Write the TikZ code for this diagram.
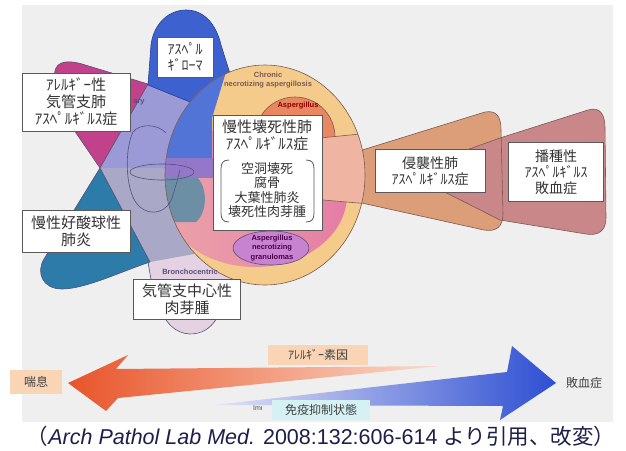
\documentclass[tikz,border=0pt]{standalone}
\usepackage{fontspec}
\setmainfont{Liberation Sans}
\newfontfamily\jp{Noto Sans CJK JP}
\usetikzlibrary{positioning}

\definecolor{bgGray}{HTML}{EFEFF0}
\definecolor{magC}{HTML}{C1428A}
\definecolor{tealC}{HTML}{2C7BA8}
\definecolor{lavTop}{HTML}{9C9AD6}
\definecolor{lavLow}{HTML}{A9A8C6}
\definecolor{blueTop}{HTML}{3E61D0}
\definecolor{blueIn}{HTML}{5274D6}
\definecolor{blueDark}{HTML}{2A3F90}
\definecolor{purpBand}{HTML}{9477C9}
\definecolor{tealGray}{HTML}{6D8FA6}
\definecolor{salPink}{HTML}{EBA3A9}
\definecolor{hotPink}{HTML}{E57DA5}
\definecolor{tanC}{HTML}{F4CB8A}
\definecolor{orangeC}{HTML}{E98760}
\definecolor{salmonC}{HTML}{F0B4A2}
\definecolor{invC}{HTML}{DC9E78}
\definecolor{dissC}{HTML}{C98789}
\definecolor{granC}{HTML}{C783D0}
\definecolor{bronPink}{HTML}{E4D2E2}
\definecolor{lineDark}{HTML}{55507A}
\definecolor{brownDark}{HTML}{7A5A52}
\definecolor{orgDark}{HTML}{E8542A}
\definecolor{orgPale}{HTML}{FBDCCB}
\definecolor{bluePale}{HTML}{E4E4F6}
\definecolor{blueHead}{HTML}{2D4FD2}
\definecolor{peach}{HTML}{F9D5B5}
\definecolor{cyanPale}{HTML}{D5F1F4}
\definecolor{navy}{HTML}{1E1E4A}

\tikzset{
  namebox/.style={draw=black!65, fill=white, line width=0.8pt, align=center, text=black!80, inner sep=1pt},
  jpbig/.style={font=\jp\fontsize{15}{17}\selectfont, text=black!80},
  jpmid/.style={font=\jp\fontsize{14}{16}\selectfont},
  jpsmall/.style={font=\jp\fontsize{13}{14.5}\selectfont, text=black!80},
  tinylbl/.style={font=\bfseries\fontsize{7.5}{9.5}\selectfont, align=center, inner sep=0pt},
  rim/.style={draw=#1, line width=0.6pt},
  pilltag/.style={font=\jp\fontsize{12}{14}\selectfont, text=black!75, inner sep=3pt},
}

\begin{document}
\begin{tikzpicture}[x=1pt,y=-1pt]
\useasboundingbox (0,0) rectangle (626,450);
\fill[white] (0,0) rectangle (626,450);
\fill[bgGray] (22,5) rectangle (613,422);

% bronchocentric tongue
\fill[bronPink] (147,255) .. controls (152,290) and (160,333) .. (190,334) .. controls (214,334) and (222,312) .. (232,282) -- (205,248) -- cycle;
\draw[rim=lineDark] (147,255) .. controls (152,290) and (160,333) .. (190,334) .. controls (214,334) and (222,312) .. (232,282);

% crossing zone of the two triangles
\fill[lavTop] (100,168) -- (148,84) -- (205,98) -- (205,170) -- cycle;
\fill[lavLow] (100,168) -- (205,168) -- (205,252) -- (150,262) -- cycle;
\filldraw[fill=magC, rim=lineDark] (100,168) -- (74,130) .. controls (62,105) and (50,80) .. (56,68) .. controls (60,60) and (72,61) .. (82,64) -- (148,84) -- cycle;
\filldraw[fill=tealC, rim=lineDark] (100,168) -- (150,262) .. controls (120,272) and (85,289) .. (62,289) .. controls (42,289) and (36,272) .. (44,259) -- cycle;

% aspergilloma
\filldraw[fill=blueTop, rim=blueDark] (148,85) -- (151,45) .. controls (154,22) and (170,10) .. (186,10) .. controls (204,10) and (216,24) .. (221,45) -- (232,80) -- (195,104) -- cycle;

% invasive and disseminated
\fill[invC] (330,160) -- (485,112) .. controls (497,110) and (501,117) .. (501,130) -- (503,214) .. controls (503,227) and (496,232) .. (484,230) -- (330,196) -- cycle;
\filldraw[fill=dissC, rim=brownDark] (405,172) -- (500,138) -- (588,110) .. controls (601,106) and (605,116) .. (605,128) -- (606,218) .. controls (606,231) and (598,236) .. (586,234) -- (500,220) -- cycle;
\draw[rim=brownDark] (330,160) -- (485,112) .. controls (497,110) and (501,117) .. (501,130) -- (503,214) .. controls (503,227) and (496,232) .. (484,230) -- (330,196);

% chronic necrotizing circle
\fill[tanC] (265,175) ellipse [x radius=100, y radius=110];
\begin{scope}
  \clip (265,175) ellipse [x radius=100, y radius=110];
  \shade[left color=salPink, right color=hotPink] (255,195) ellipse [x radius=92, y radius=72];
  \fill[blueIn] (150,60) -- (229,62) -- (212,118) -- (212,158) -- (150,158) -- cycle;
  \fill[purpBand] (150,158) rectangle (214,178);
  \fill[tealGray] (150,178) -- (198,178) .. controls (207,188) and (208,212) .. (196,222) -- (150,222) -- cycle;
  \filldraw[fill=orangeC, rim=brownDark] (295,137) ellipse [x radius=40, y radius=40];
  \fill[salmonC] (300,140) -- (370,133) -- (370,204) -- (300,198) -- cycle;
  \draw[rim=brownDark] (300,140) -- (370,133);
  \draw[rim=brownDark] (300,198) -- (370,204);
\end{scope}
\filldraw[fill=granC, rim=lineDark] (271,248) ellipse [x radius=38, y radius=17];
\draw[rim=brownDark] (265,175) ellipse [x radius=100, y radius=110];

% bronchus outline
\draw[rim=lineDark] (162,172) ellipse [x radius=32, y radius=8];
\draw[rim=lineDark] (166,133) .. controls (158,124) and (140,123) .. (133,132) .. controls (124,150) and (125,195) .. (140,207) .. controls (150,216) and (168,214) .. (173,195) .. controls (176,185) and (178,178) .. (180,170);

% small English labels
\node[tinylbl, text=brownDark] (cnaLbl) at (268,80) {Chronic\\necrotizing aspergillosis};
\node[tinylbl, text=red!55!black] (aspLbl) at (298,106) {Aspergillus};
\node[tinylbl, text=violet!60!black] (granLbl) at (272,248) {Aspergillus\\necrotizing\\granulomas};
\node[tinylbl, text=lineDark] (bronLbl) at (190,272) {Bronchocentric};
\node[tinylbl, text=lineDark] (aryLbl) at (139,102) {ary};

% name boxes
\node[namebox, jpmid, minimum width=56, minimum height=40] (aspg) at (185,57) {ｱｽﾍﾟﾙ\\ｷﾞﾛｰﾏ};
\node[namebox, jpbig, minimum width=108, minimum height=58] (abpa) at (76,102) {ｱﾚﾙｷﾞｰ性\\気管支肺\\ｱｽﾍﾟﾙｷﾞﾙｽ症};
\node[namebox, jpbig, minimum width=108, minimum height=42] (cep) at (76,231) {慢性好酸球性\\肺炎};
\node[namebox, jpbig, minimum width=107, minimum height=40] (bgran) at (187,299) {気管支中心性\\肉芽腫};
\node[namebox, jpmid, minimum width=110, minimum height=43] (ipa) at (430,171) {侵襲性肺\\ｱｽﾍﾟﾙｷﾞﾙｽ症};
\node[namebox, jpmid, minimum width=95, minimum height=59] (dpa) at (556,172) {播種性\\ｱｽﾍﾟﾙｷﾞﾙｽ\\敗血症};
\node[namebox, minimum width=109, minimum height=115] (cnpa) at (267.5,172.5) {};
\node[jpbig, align=center] (cnpaTitle) at (267,135) {慢性壊死性肺\\ｱｽﾍﾟﾙｷﾞﾙｽ症};
\node[jpsmall, align=center] (cnpaList) at (267,190) {空洞壊死\\腐骨\\大葉性肺炎\\壊死性肉芽腫};
\draw[black!65, line width=0.8pt] (229,160) .. controls (223,160) and (221,163) .. (221,169) -- (221,213) .. controls (221,219) and (223,222) .. (229,222);
\draw[black!65, line width=0.8pt] (306,160) .. controls (312,160) and (314,163) .. (314,169) -- (314,213) .. controls (314,219) and (312,222) .. (306,222);

% bottom arrows
\shade[left color=orgDark, right color=orgPale] (68,383) -- (128,355) -- (116,369) -- (440,366) -- (118,398) -- (106,411) -- cycle;
\shade[left color=bluePale, right color=blueHead] (214,405) -- (507,372) -- (512,346) -- (556,383) -- (500,420) -- (503,406) -- cycle;

\node[pilltag, fill=peach, minimum width=52, minimum height=24] (asthma) at (36,382) {喘息};
\node[pilltag, fill=peach, minimum width=100, minimum height=20] (atopy) at (318,355) {ｱﾚﾙｷﾞｰ素因};
\node[pilltag, fill=cyanPale, minimum width=98, minimum height=20] (immuno) at (321,410) {免疫抑制状態};
\node[font=\fontsize{7}{8}\selectfont, text=black!70, inner sep=0pt] (immLbl) at (258,408) {Imı};
\node[pilltag] (sepsis) at (584,383) {敗血症};

% source
\node[text=navy, font=\fontsize{21.5}{24}\selectfont, inner sep=0pt] (cite) at (321,436) {{\jp （}\textit{Arch Pathol Lab Med.} 2008:132:606-614 {\jp より引用、改変）}};
\end{tikzpicture}
\end{document}
